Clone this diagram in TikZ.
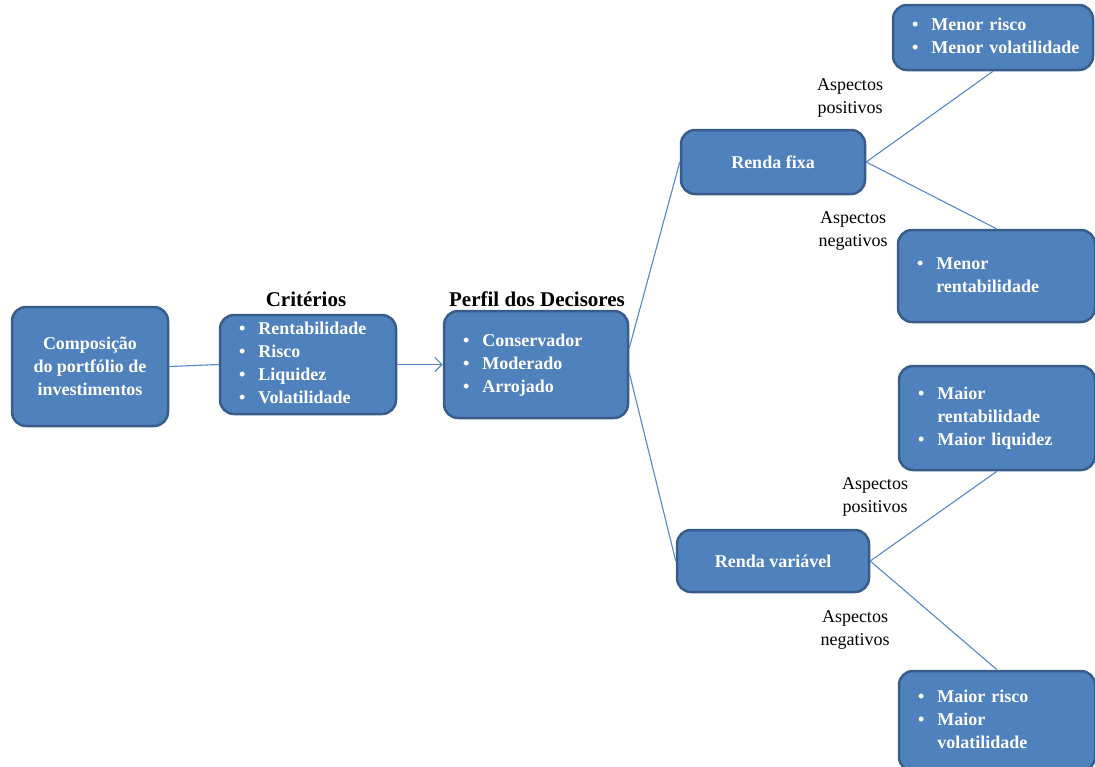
\documentclass[tikz,border=0pt]{standalone}
\usepackage{fontspec}
\setmainfont{Liberation Serif}
\usetikzlibrary{arrows.meta,positioning}
\definecolor{boxfill}{RGB}{79,129,189}
\definecolor{boxline}{RGB}{56,93,138}
\definecolor{linkline}{RGB}{84,136,198}
\tikzset{
x=1pt,y=-1pt,
>={Straight Barb[length=7pt,width=14pt]},
box/.style={draw=boxline,fill=boxfill,line width=2.5pt,rounded corners=14pt,text=white,font=\bfseries\fontsize{18}{23}\selectfont,align=center,inner sep=0pt},
listbox/.style={box,align=left,inner xsep=19pt},
title/.style={font=\bfseries\fontsize{21}{25}\selectfont,anchor=base},
aspect/.style={font=\fontsize{18}{23}\selectfont,align=center,inner sep=0pt},
link/.style={draw=linkline,line width=1.1pt}
}
\newcommand{\blist}[1]{\begin{tabular}{@{}l@{\hspace{13pt}}l@{}}#1\end{tabular}}

\begin{document}
\begin{tikzpicture}
\useasboundingbox (0,0) rectangle (1095,766);

% main chain
\node[box,minimum width=156pt,minimum height=119pt] (comp) at (90,366.5) {Composição\\do portfólio de\\investimentos};
\node[listbox,text width=138pt,minimum height=99pt] (crit) at (308,364.5)
  {\blist{\textbullet & Rentabilidade\\ \textbullet & Risco\\ \textbullet & Liquidez\\ \textbullet & Volatilidade}};
\node[listbox,text width=146pt,minimum height=107pt] (perfil) at (536,364.5)
  {\blist{\textbullet & Conservador\\ \textbullet & Moderado\\ \textbullet & Arrojado}};
\node[title] (crittitle) at (306,306) {Critérios};
\node[title] (perfiltitle) at (537,306) {Perfil dos Decisores};

% investment types
\node[box,minimum width=184pt,minimum height=64pt] (rf) at (773,162) {Renda fixa};
\node[box,minimum width=192pt,minimum height=62pt] (rv) at (773,561) {Renda variável};

% aspects
\node[listbox,text width=162pt,minimum height=65pt] (rfpos) at (993,37.5)
  {\blist{\textbullet & Menor risco\\ \textbullet & Menor volatilidade}};
\node[listbox,text width=159pt,minimum height=92pt] (rfneg) at (996.5,276)
  {\blist{\textbullet & Menor\\ & rentabilidade}};
\node[listbox,text width=158pt,minimum height=104pt] (rvpos) at (997,418)
  {\blist{\textbullet & Maior\\ & rentabilidade\\ \textbullet & Maior liquidez}};
\node[listbox,text width=158pt,minimum height=100pt] (rvneg) at (997,721)
  {\blist{\textbullet & Maior risco\\ \textbullet & Maior\\ & volatilidade}};

\node[aspect] (pos1) at (850,98)  {Aspectos\\positivos};
\node[aspect] (neg1) at (853,231) {Aspectos\\negativos};
\node[aspect] (pos2) at (875,497) {Aspectos\\positivos};
\node[aspect] (neg2) at (855,630) {Aspectos\\negativos};

\path[link] (comp.east)  edge         (crit.west)
            (crit.east)  edge[->]     (perfil.west)
            (perfil.10)  edge         (rf.west)
            (perfil.-5)  edge         (rv.west)
            (rf.east)    edge         (rfpos.south)
                         edge         (rfneg.north)
            (rv.east)    edge         (rvpos.south)
                         edge         (rvneg.north);
\end{tikzpicture}
\end{document}
